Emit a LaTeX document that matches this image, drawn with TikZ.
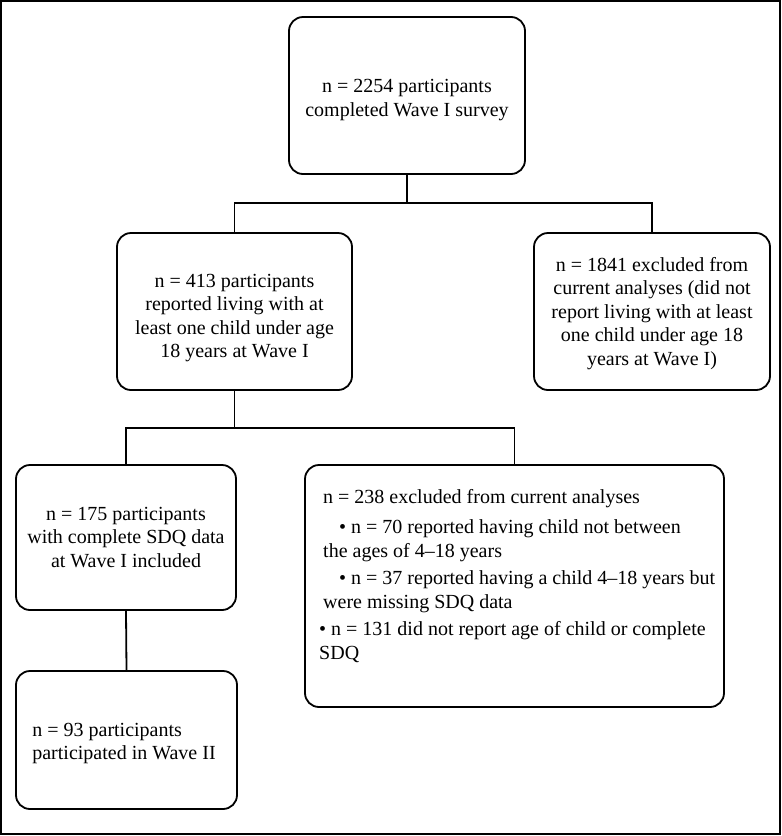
\documentclass[tikz,border=0pt]{standalone}
\usepackage{fontspec}
\setmainfont{Liberation Serif}
\usetikzlibrary{positioning}

\begin{document}
\begin{tikzpicture}[x=1pt, y=-1pt,
        flowbox/.style={draw, line width=1.8pt, rectangle, rounded corners=14pt, align=center, inner sep=0pt},
        link/.style={line width=1.8pt},
        every node/.style={font=\fontsize{20}{23.5}\selectfont}]
        \useasboundingbox (0,0) rectangle (782,836);

        % Outer frame
        \draw[line width=2pt] (1,1) rectangle (780,834);

        % Wave I survey
        \node[flowbox, minimum width=236pt, minimum height=157pt] (wave1) at (407,95.5) {
            \rule{0pt}{22pt}n = 2254 participants\\
            completed Wave I survey
        };

        % Living with a child
        \node[flowbox, minimum width=235pt, minimum height=157pt] (incl413) at (234.5,311.5) {
            \rule{0pt}{26pt}n = 413 participants\\
            reported living with at\\
            least one child under age\\
            18 years at Wave I
        };
        \node[flowbox, minimum width=236pt, minimum height=157pt] (excl1841) at (652,311.5) {
            \rule{0pt}{18pt}n = 1841 excluded from\\
            current analyses (did not\\
            report living with at least\\
            one child under age 18\\
            years at Wave I)
        };

        % SDQ data
        \node[flowbox, minimum width=220pt, minimum height=145pt] (incl175) at (126,537.5) {
            n = 175 participants\\
            with complete SDQ data\\
            at Wave I included
        };
        \node[flowbox, minimum width=419pt, minimum height=242pt] (excl238) at (514.5,586) {};
        \node[anchor=north west, align=left, inner sep=0pt] (excl238txt) at (319,489) {
            \hspace*{4pt}n = 238 excluded from current analyses\\[7pt]
            \hspace*{20pt}• n = 70 reported having child not between\\
            \hspace*{4pt}the ages of 4--18 years\\[4pt]
            \hspace*{20pt}• n = 37 reported having a child 4--18 years but\\
            \hspace*{4pt}were missing SDQ data\\[4pt]
            • n = 131 did not report age of child or complete\\
            SDQ
        };

        % Wave II
        \node[flowbox, minimum width=221pt, minimum height=138pt, align=left] (wave2) at (126.5,740) {
            \rule{0pt}{20pt}n = 93 participants\hspace*{38pt}\\
            participated in Wave II\hspace*{5pt}
        };

        % Connectors
        \coordinate (split1) at (wave1.south |- 0,203);
        \draw[link] (wave1.south) -- (split1);
        \draw[link] (incl413.north) |- (split1) -| (excl1841.north);

        \coordinate (split2) at (incl413.south |- 0,428);
        \draw[link] (incl413.south) -- (split2);
        \draw[link] (incl175.north) |- (split2) -| (excl238.north);

        \draw[link] (incl175.south) -- (wave2.north);
    \end{tikzpicture}
\end{document}
